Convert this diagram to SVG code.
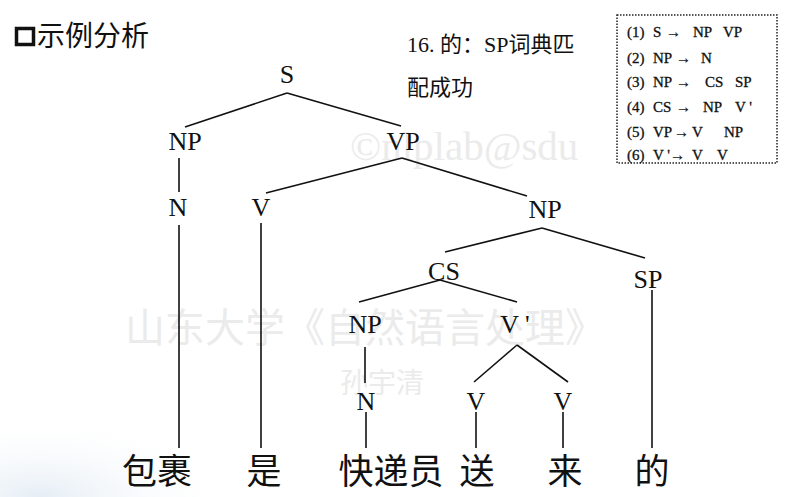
<svg xmlns="http://www.w3.org/2000/svg" width="799" height="497" viewBox="0 0 799 497">
<defs>
<style>
.n{font-family:"Liberation Serif","Noto Sans CJK SC",serif;font-size:26px;fill:#111;text-anchor:middle}
.w{font-family:"Noto Sans CJK SC","Liberation Serif",sans-serif;font-size:35px;fill:#111;text-anchor:middle}
.r{font-family:"Liberation Serif",serif;font-size:15px;fill:#111;stroke:#111;stroke-width:0.3}
.c line{stroke:#111;stroke-width:1.6}
.wm{font-family:"Liberation Serif","Noto Sans CJK SC",serif;fill:#ebebeb}
</style>
<radialGradient id="bg" cx="0.1" cy="1" r="0.5">
<stop offset="0" stop-color="#dfe9f2" stop-opacity="0.8"/>
<stop offset="1" stop-color="#ffffff" stop-opacity="0"/>
</radialGradient>
</defs>
<rect width="799" height="497" fill="#fff"/>
<rect x="0" y="330" width="400" height="167" fill="url(#bg)"/>
<g id="watermarks">
<text class="wm" x="350" y="160" font-size="41">©nlplab@sdu</text>
<text class="wm" x="125" y="342" font-size="40">山东大学《自然语言处理》</text>
<text class="wm" x="340" y="393" font-size="28">孙宇清</text>
</g>
<g id="title">
<rect x="16.5" y="28.5" width="17" height="16" fill="none" stroke="#111" stroke-width="3.5"/>
<text x="37" y="46" font-family="Noto Sans CJK SC,sans-serif" font-size="28" fill="#111">示例分析</text>
</g>
<g id="note" font-family="Liberation Serif,Noto Sans CJK SC,serif" font-size="22" fill="#111">
<text x="407" y="52">16. 的：SP词典匹</text>
<text x="407" y="95">配成功</text>
</g>
<g id="rules">
<rect x="617" y="15" width="160" height="148" fill="none" stroke="#222" stroke-width="1.5" stroke-dasharray="1.5,1.5"/>
<text class="r" y="37"><tspan x="627">(1)</tspan><tspan x="653">S</tspan><tspan x="666">→</tspan><tspan x="693">NP</tspan><tspan x="723">VP</tspan></text>
<text class="r" y="63"><tspan x="627">(2)</tspan><tspan x="653">NP</tspan><tspan x="676">→</tspan><tspan x="701">N</tspan></text>
<text class="r" y="87"><tspan x="627">(3)</tspan><tspan x="653">NP</tspan><tspan x="676">→</tspan><tspan x="705">CS</tspan><tspan x="735">SP</tspan></text>
<text class="r" y="112"><tspan x="627">(4)</tspan><tspan x="653">CS</tspan><tspan x="676">→</tspan><tspan x="703">NP</tspan><tspan x="735">V '</tspan></text>
<text class="r" y="137"><tspan x="627">(5)</tspan><tspan x="653">VP</tspan><tspan x="674">→</tspan><tspan x="692">V</tspan><tspan x="724">NP</tspan></text>
<text class="r" y="160"><tspan x="627">(6)</tspan><tspan x="653">V '</tspan><tspan x="670">→</tspan><tspan x="692">V</tspan><tspan x="717">V</tspan></text>
</g>
<g id="connectors" class="c">
<line x1="287" y1="93" x2="185" y2="127"/>
<line x1="287" y1="93" x2="401" y2="126"/>
<line x1="179" y1="158" x2="179" y2="192"/>
<line x1="179" y1="225" x2="179" y2="448"/>
<line x1="402" y1="158" x2="266" y2="193"/>
<line x1="402" y1="158" x2="527" y2="196"/>
<line x1="261" y1="223" x2="261" y2="448"/>
<line x1="542" y1="228" x2="445" y2="252"/>
<line x1="542" y1="228" x2="645" y2="258"/>
<line x1="440" y1="280" x2="359" y2="302"/>
<line x1="440" y1="280" x2="517" y2="302"/>
<line x1="652" y1="290" x2="652" y2="448"/>
<line x1="365" y1="347" x2="365" y2="383"/>
<line x1="517" y1="345" x2="474" y2="382"/>
<line x1="517" y1="345" x2="568" y2="382"/>
<line x1="366" y1="412" x2="366" y2="448"/>
<line x1="476" y1="412" x2="476" y2="448"/>
<line x1="563" y1="412" x2="563" y2="448"/>
</g>
<g id="n-S"><text class="n" x="287" y="83">S</text></g>
<g id="n-NP1"><text class="n" x="185" y="150">NP</text></g>
<g id="n-VP"><text class="n" x="403" y="150">VP</text></g>
<g id="n-N1"><text class="n" x="178" y="216">N</text></g>
<g id="n-V1"><text class="n" x="261" y="216">V</text></g>
<g id="n-NP2"><text class="n" x="545" y="218">NP</text></g>
<g id="n-CS"><text class="n" x="444" y="280">CS</text></g>
<g id="n-SP"><text class="n" x="648" y="288">SP</text></g>
<g id="n-NP3"><text class="n" x="365" y="333">NP</text></g>
<g id="n-Vp"><text class="n" x="515" y="333">V '</text></g>
<g id="n-N2"><text class="n" x="366" y="410">N</text></g>
<g id="n-V2"><text class="n" x="476" y="410">V</text></g>
<g id="n-V3"><text class="n" x="563" y="410">V</text></g>
<g id="w1"><text class="w" x="157" y="484">包裹</text></g>
<g id="w2"><text class="w" x="264" y="484">是</text></g>
<g id="w3"><text class="w" x="391" y="484">快递员</text></g>
<g id="w4"><text class="w" x="477" y="484">送</text></g>
<g id="w5"><text class="w" x="565" y="484">来</text></g>
<g id="w6"><text class="w" x="652" y="484">的</text></g>
</svg>
